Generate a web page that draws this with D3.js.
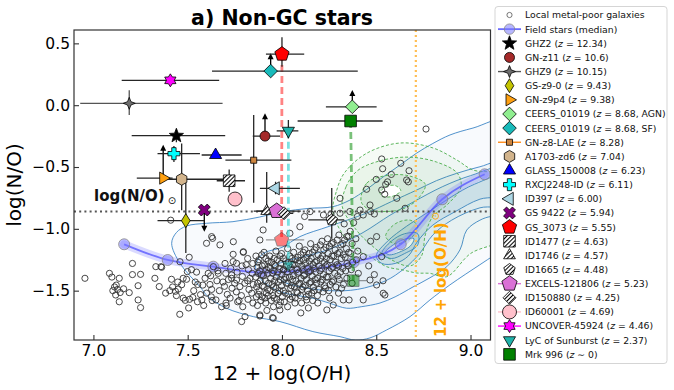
<!DOCTYPE html>
<html><head><meta charset="utf-8">
<script src="https://cdn.jsdelivr.net/npm/d3@7"></script>
<style>body{margin:0;background:#fff}svg{font-family:'DejaVu Sans',sans-serif}</style>
</head><body><svg id="c" width="674" height="390"></svg>
<script>
// ---------------- DATA ----------------
const xTicks = [7.0, 7.5, 8.0, 8.5, 9.0];
const yTicks = [0.5, 0.0, -0.5, -1.0, -1.5];
const solarNO = -0.86;
const solarOH = 8.71;

// Field stars (median)
const fieldOH = [7.163, 7.394, 7.636, 7.892, 8.14, 8.38, 8.63, 8.85, 9.075];
const fieldNO = [-1.125, -1.252, -1.306, -1.354, -1.33, -1.27, -1.125, -0.761, -0.559];

// Local metal-poor galaxies [12+log(O/H), log(N/O)]
const localGal = [
[6.955,-1.40],[7.085,-1.36],[7.098,-1.39],[7.137,-1.40],[7.112,-1.47],[7.128,-1.49],[7.103,-1.50],[7.142,-1.515],[7.121,-1.455],[7.137,-1.59],
[7.207,-1.28],[7.207,-1.37],[7.25,-1.368],[7.237,-1.46],[7.19,-1.516],[7.237,-1.575],[7.25,-1.637],[7.16,-1.485],[7.118,-1.535],
[7.331,-1.306],[7.358,-1.306],[7.326,-1.40],[7.349,-1.467],[7.362,-1.311],[7.414,-1.408],[7.42,-1.47],[7.405,-1.50],[7.435,-1.505],[7.45,-1.487],
[7.458,-1.691],[7.476,-1.56],[7.487,-1.578],[7.51,-1.57],[7.527,-1.555],[7.494,-1.408],[7.498,-1.346],[7.476,-1.40],[7.459,-1.266],[7.508,-1.23],
[7.54,-1.43],[7.553,-1.45],[7.58,-1.455],[7.547,-1.35],[7.609,-1.36],[7.60,-1.52],[7.627,-1.49],[7.632,-1.077],[7.60,-1.117],[7.627,-1.063],
[7.41,-0.93],[7.447,-1.43],[7.468,-1.452],[7.383,-1.52],[7.532,-1.50],[7.568,-1.532],[7.552,-1.59],[7.592,-1.40],[7.52,-1.33],[7.575,-1.575],
[7.505,-1.64],[7.585,-1.62],[7.44,-1.54],
[7.636,-1.306],[7.662,-1.36],[7.622,-1.38],[7.618,-1.45],[7.625,-1.55],[7.63,-1.58],[7.65,-1.575],[7.655,-1.42],[7.668,-1.50],[7.66,-1.34],
[7.68,-1.63],[7.705,-1.62],[7.698,-1.28],[7.702,-1.36],[7.695,-1.465],[7.71,-1.53],[7.703,-1.60],[7.728,-1.32],[7.733,-1.40],[7.735,-1.48],
[7.725,-1.56],[7.742,-1.104],[7.671,-1.13],[7.741,-1.206],[7.795,-1.19],[7.741,-1.265],[7.759,-1.279],[7.733,-1.373],[7.759,-1.414],[7.777,-1.467],
[7.803,-1.44],[7.83,-1.40],[7.762,-1.35],[7.758,-1.51],[7.765,-1.59],[7.788,-1.30],[7.79,-1.385],[7.785,-1.54],[7.792,-1.63],[7.818,-1.24],
[7.822,-1.33],[7.818,-1.42],[7.825,-1.49],[7.82,-1.57],[7.845,-1.28],[7.842,-1.36],[7.848,-1.45],[7.84,-1.52],[7.846,-1.60],[7.804,-1.71],
[7.786,-1.75],[7.795,-1.185],[7.883,-1.705],[7.95,-1.718],[7.883,-1.696],[7.954,-1.723],[7.989,-1.656],[7.687,-1.43],[7.716,-1.41],[7.749,-1.44],
[7.772,-1.58],[7.81,-1.29],
[7.862,-1.22],[7.868,-1.31],[7.861,-1.39],[7.866,-1.47],[7.864,-1.55],[7.87,-1.62],[7.883,-1.09],[7.9,-1.009],
[7.878,-1.25],[7.882,-1.34],[7.885,-1.42],[7.879,-1.50],[7.888,-1.58],
[7.905,-1.19],[7.915,-1.24],[7.908,-1.29],[7.918,-1.33],[7.902,-1.38],[7.912,-1.42],[7.905,-1.47],[7.917,-1.52],[7.909,-1.56],[7.914,-1.60],[7.92,-1.66],
[7.935,-1.22],[7.945,-1.27],[7.938,-1.32],[7.95,-1.36],[7.94,-1.40],[7.948,-1.45],[7.936,-1.50],[7.952,-1.54],[7.944,-1.58],[7.955,-1.63],
[7.968,-1.18],[7.975,-1.25],[7.965,-1.30],[7.978,-1.35],[7.97,-1.39],[7.982,-1.43],[7.968,-1.48],[7.98,-1.52],[7.972,-1.57],[7.985,-1.62],
[7.998,-1.20],[8.008,-1.24],[7.995,-1.28],[8.01,-1.33],[8.0,-1.37],[8.012,-1.41],[7.998,-1.46],[8.007,-1.50],[8.002,-1.55],[8.012,-1.59],[8.007,-1.333],
[8.03,-1.16],[8.042,-1.22],[8.035,-1.27],[8.045,-1.31],[8.028,-1.35],[8.04,-1.39],[8.032,-1.44],[8.046,-1.48],[8.036,-1.53],[8.044,-1.57],[8.03,-1.63],[8.042,-1.036],[8.069,-1.60],
[8.062,-1.19],[8.072,-1.25],[8.065,-1.29],[8.078,-1.33],[8.06,-1.38],[8.074,-1.42],[8.066,-1.47],[8.079,-1.51],[8.07,-1.56],[8.095,-0.983],
[8.092,-1.14],[8.1,-1.21],[8.095,-1.26],[8.105,-1.30],[8.09,-1.35],[8.102,-1.40],[8.094,-1.44],[8.106,-1.49],[8.098,-1.54],[8.104,-1.60],
[8.122,-1.17],[8.132,-1.23],[8.125,-1.28],[8.135,-1.32],[8.12,-1.37],[8.13,-1.41],[8.124,-1.46],[8.136,-1.50],[8.128,-1.55],[8.131,-1.575],
[8.152,-1.12],[8.162,-1.19],[8.155,-1.24],[8.165,-1.29],[8.15,-1.34],[8.16,-1.38],[8.154,-1.43],[8.166,-1.47],[8.158,-1.52],[8.163,-1.58],[8.149,-0.861],
[8.182,-1.15],[8.192,-1.21],[8.185,-1.26],[8.195,-1.30],[8.18,-1.35],[8.19,-1.40],[8.184,-1.44],[8.196,-1.49],[8.188,-1.54],
[8.212,-1.10],[8.222,-1.17],[8.215,-1.22],[8.225,-1.27],[8.21,-1.32],[8.22,-1.37],[8.214,-1.41],[8.226,-1.46],[8.218,-1.51],[8.22,-0.888],
[8.242,-1.08],[8.252,-1.14],[8.245,-1.20],[8.255,-1.25],[8.24,-1.29],[8.25,-1.34],[8.244,-1.39],[8.256,-1.45],[8.248,-1.50],[8.253,-1.56],
[8.272,-1.11],[8.282,-1.17],[8.275,-1.22],[8.285,-1.27],[8.27,-1.31],[8.28,-1.36],[8.274,-1.42],[8.286,-1.47],
[8.302,-1.05],[8.312,-1.13],[8.305,-1.19],[8.315,-1.24],[8.3,-1.30],[8.31,-1.35],[8.304,-1.41],[8.316,-1.48],[8.308,-0.874],[8.308,-0.753],[8.325,-1.575],
[8.332,-1.09],[8.342,-1.16],[8.335,-1.23],[8.345,-1.28],[8.338,-1.34],[8.344,-1.40],[8.344,-1.063],
[8.362,-1.02],[8.372,-1.12],[8.365,-1.20],[8.375,-1.27],[8.368,-1.33],[8.372,-1.44],[8.414,-0.848],[8.356,-1.575],
[8.392,-1.08],[8.402,-1.18],[8.395,-1.25],[8.405,-1.36],[8.431,-1.225],[8.467,-1.414],[8.502,-1.454],[8.537,-1.521],[8.431,-1.575],[8.46,-1.30],[8.49,-1.37],
[8.238,-1.656],[8.272,-1.616],[8.19,-1.60],[8.14,-1.64],[8.10,-1.68],[8.3,-1.52],
[7.872,-1.27],[7.874,-1.36],[7.871,-1.44],[7.876,-1.53],
[7.893,-1.21],[7.895,-1.30],[7.892,-1.37],[7.896,-1.46],[7.894,-1.55],
[7.926,-1.26],[7.928,-1.31],[7.925,-1.36],[7.929,-1.44],[7.924,-1.49],[7.927,-1.54],
[7.958,-1.24],[7.96,-1.29],[7.957,-1.34],[7.961,-1.42],[7.956,-1.47],[7.959,-1.56],
[7.99,-1.22],[7.988,-1.32],[7.991,-1.41],[7.987,-1.50],[7.992,-1.59],
[8.02,-1.26],[8.022,-1.30],[8.019,-1.39],[8.023,-1.44],[8.018,-1.52],
[8.053,-1.24],[8.055,-1.29],[8.052,-1.33],[8.056,-1.41],[8.051,-1.46],[8.054,-1.55],
[8.085,-1.23],[8.087,-1.28],[8.084,-1.36],[8.088,-1.45],[8.083,-1.52],
[8.113,-1.19],[8.115,-1.25],[8.112,-1.33],[8.116,-1.38],[8.111,-1.47],
[8.143,-1.20],[8.145,-1.26],[8.142,-1.35],[8.146,-1.44],[8.141,-1.53],
[8.173,-1.17],[8.175,-1.27],[8.172,-1.32],[8.176,-1.41],[8.171,-1.50],
[8.203,-1.13],[8.205,-1.24],[8.202,-1.34],[8.206,-1.43],
[8.233,-1.15],[8.235,-1.24],[8.232,-1.30],[8.236,-1.39],[8.231,-1.48],
[8.263,-1.12],[8.265,-1.22],[8.262,-1.32],[8.266,-1.43],
[8.293,-1.09],[8.295,-1.20],[8.292,-1.29],[8.296,-1.38],
[8.323,-1.12],[8.325,-1.21],[8.322,-1.32],[8.326,-1.45],
[8.353,-1.06],[8.355,-1.19],[8.352,-1.30],
[8.764,-0.193],[8.529,-0.435],[8.63,-0.47],[8.674,-0.53],[8.534,-0.514],[8.449,-0.68],[8.529,-0.686],[8.55,-0.64],[8.56,-0.62],[8.545,-0.72],
[8.661,-0.605],[8.67,-0.62],[8.609,-0.753],[8.653,-0.834],[8.467,-0.807],[8.431,-0.888],[8.47,-0.86],[8.49,-0.88],[8.40,-0.90],[8.502,-1.063],
[8.47,-1.10],[8.529,-1.225],[8.536,-1.42],[8.546,-1.535],[8.50,-0.60],[8.58,-0.56],[8.36,-0.86],[8.38,-0.95],[8.33,-0.96],[8.12,-0.90],[8.26,-0.88]
];

// density contours (blue: reference galaxy sample, green: stellar sample)
const blueC1 = [[7.415,-1.117],[7.44,-1.03],[7.494,-0.977],[7.6,-0.955],[7.74,-0.942],[7.88,-0.905],[8.005,-0.861],[8.14,-0.835],[8.27,-0.821],[8.361,-0.767],[8.45,-0.68],[8.536,-0.581],[8.63,-0.48],[8.715,-0.387],[8.8,-0.31],[8.891,-0.241],[9.013,-0.185],[9.2,-0.12],[9.25,-0.6],[9.25,-1.1],[9.13,-1.21],[9.05,-1.29],[8.891,-1.453],[8.785,-1.575],[8.679,-1.71],[8.555,-1.818],[8.467,-1.882],[8.39,-1.9],[8.308,-1.872],[8.164,-1.831],[7.989,-1.75],[7.848,-1.71],[7.707,-1.643],[7.609,-1.55],[7.565,-1.468],[7.459,-1.279]];
const blueC2 = [[7.86,-1.30],[7.9,-1.2],[8.0,-1.15],[8.095,-1.063],[8.25,-0.98],[8.449,-0.872],[8.58,-0.78],[8.715,-0.686],[8.82,-0.61],[8.927,-0.551],[9.05,-0.498],[9.2,-0.45],[9.2,-0.9],[9.109,-0.9],[9.05,-0.93],[8.98,-1.01],[8.944,-1.17],[8.874,-1.306],[8.78,-1.4],[8.695,-1.47],[8.6,-1.55],[8.52,-1.6],[8.42,-1.63],[8.343,-1.642],[8.25,-1.6],[8.164,-1.561],[7.99,-1.508],[7.892,-1.414]];
const blueC3 = [[7.95,-1.32],[8.0,-1.27],[8.1,-1.23],[8.26,-1.16],[8.43,-1.03],[8.573,-0.89],[8.7,-0.78],[8.85,-0.66],[9.0,-0.57],[9.2,-0.5],[9.2,-0.8],[9.05,-0.83],[8.9,-0.93],[8.8,-1.05],[8.73,-1.2],[8.65,-1.32],[8.55,-1.42],[8.4,-1.49],[8.25,-1.5],[8.1,-1.47],[8.0,-1.42]];
const blueC4 = [[8.5,-1.22],[8.56,-1.1],[8.66,-0.98],[8.78,-0.86],[8.9,-0.74],[9.02,-0.64],[9.2,-0.56],[9.2,-0.72],[9.05,-0.76],[8.92,-0.86],[8.8,-0.97],[8.72,-1.1],[8.67,-1.22],[8.6,-1.28],[8.53,-1.28]];
const blueC5 = [[8.53,-1.2],[8.58,-1.1],[8.65,-1.04],[8.72,-1.04],[8.72,-1.13],[8.65,-1.2],[8.58,-1.24]];
const blueHole = [[8.55,-1.19],[8.6,-1.12],[8.66,-1.08],[8.70,-1.08],[8.68,-1.14],[8.62,-1.19],[8.57,-1.21]];
const greenC1 = [[8.27,-0.85],[8.29,-0.69],[8.33,-0.55],[8.449,-0.389],[8.626,-0.306],[8.801,-0.346],[8.927,-0.443],[9.013,-0.524],[9.2,-0.58],[9.2,-1.05],[9.0,-1.2],[8.874,-1.387],[8.785,-1.36],[8.715,-1.357],[8.642,-1.333],[8.555,-1.306],[8.467,-1.225],[8.396,-1.171],[8.308,-1.009]];
const greenC2 = [[8.32,-0.82],[8.34,-0.66],[8.4,-0.53],[8.52,-0.45],[8.67,-0.42],[8.82,-0.46],[8.93,-0.55],[8.95,-0.66],[8.88,-0.8],[8.8,-0.9],[8.76,-1.05],[8.74,-1.22],[8.68,-1.3],[8.58,-1.25],[8.48,-1.14],[8.4,-1.02]];
const greenC3 = [[8.42,-0.78],[8.45,-0.63],[8.55,-0.57],[8.67,-0.57],[8.76,-0.64],[8.72,-0.76],[8.64,-0.84],[8.55,-0.86],[8.47,-0.85]];
const greenC3b = [[8.55,-1.06],[8.6,-0.96],[8.68,-0.93],[8.72,-0.98],[8.68,-1.08],[8.6,-1.12]];
const greenHole = [[8.52,-0.71],[8.55,-0.66],[8.6,-0.65],[8.63,-0.69],[8.59,-0.735],[8.54,-0.74]];

// High-z / special objects
const objNames = ["GHZ2","GN-z11","GHZ9","GS-z9-0","GN-z9p4","CEERS_01019","CEERS_01019","GN-z8-LAE","A1703-zd6","GLASS_150008","RXCJ2248-ID","ID397","GS 9422","GS_3073","ID1477","ID1746","ID1665","EXCELS-121806","ID150880","ID60001","UNCOVER-45924","LyC of Sunburst","Mrk 996"];
const objZ = ["12.34","10.6","10.15","9.43","9.38","8.68, AGN","8.68, SF","8.28","7.04","6.23","6.11","6.00","5.94","5.55","4.63","4.57","4.48","5.23","4.25","4.69","4.46","2.37","0"];
const objOH   = [7.44, 7.91, 7.19, 7.49, 7.37, 8.373, 7.94, 7.85, 7.468, 7.648, 7.427, 7.966, 7.588, 8.0, 7.72, 7.919, 8.264, 7.972, 8.011, 7.751, 7.408, 8.034, 8.364];
const objNO   = [-0.247, -0.25, 0.015, -0.934, -0.59, -0.013, 0.276, -0.445, -0.599, -0.403, -0.392, -0.672, -0.848, 0.413, -0.611, -0.856, -0.928, -0.856, -0.874, -0.759, 0.201, -0.207, -0.128];
const objOHlo = [7.203, 7.845, 6.93, 7.34, 7.23, 8.233, 7.629, 7.70, 7.37, 7.574, 7.34, 7.883, null, 7.915, 7.654, 7.87, 8.14, 7.85, 7.96, null, 7.15, 7.972, 8.083];
const objOHhi = [7.699, 7.99, 7.685, 7.586, 7.42, 8.502, 8.402, 8.05, 7.724, 7.786, 7.565, 8.095, null, 8.118, 7.804, 7.97, 8.33, 8.10, 8.06, null, 7.667, 8.087, 8.534];
const objNOlo = [-0.30, null, -0.08, -1.195, null, null, null, -0.79, -0.85, null, -0.46, -0.72, null, 0.31, -0.70, -0.95, -1.08, -0.91, null, null, null, -0.27, null];
const objNOhi = [-0.20, null, 0.12, -0.63, null, null, null, -0.08, -0.31, null, -0.33, -0.62, null, 0.55, -0.52, -0.54, -0.67, -0.80, null, null, null, -0.12, null];
// limit arrows: end value of log(N/O) (lower limits point up, upper limits point down)
const objLimit = [null, -0.066, null, null, -0.32, 0.123, 0.419, null, null, null, null, null, -1.023, null, null, null, null, null, null, null, null, null, null];

// alternative (faded) values connected by dashed lines
const altIdx = [13, 21, 22];
const altOH = [7.998, 8.034, 8.378];
const altNO = [-1.09, -1.292, -1.419];
const altOHlo = [7.915, null, 8.30];
const altOHhi = [8.118, null, 8.45];

// ---------------- STYLES ----------------
const objStyle = [
 {s:'star5', r:7.5, fill:'#000000'},
 {s:'circle', r:5, fill:'#a52a2a'},
 {s:'star4', r:6, fill:'#6e6e6e', line:'#555'},
 {s:'thindiamond', r:7, fill:'#c4c400'},
 {s:'triRight', r:7, fill:'#ffa010'},
 {s:'diamond', r:6.8, fill:'#90ee90'},
 {s:'diamond', r:6.8, fill:'#18baba'},
 {s:'square', r:4.3, fill:'#cd853f', line:'#ff8c1a'},
 {s:'hexagon', r:6, fill:'#d2b48c'},
 {s:'triUp', r:7, fill:'#0000ff'},
 {s:'plus', r:6, fill:'#00ffff'},
 {s:'triLeft', r:7.5, fill:'#add8e6'},
 {s:'xcross', r:6.3, fill:'#800080'},
 {s:'pentagon', r:7.5, fill:'#ff0000'},
 {s:'square', r:8.2, fill:'url(#hatch)'},
 {s:'triUp', r:6.8, fill:'url(#hatch)'},
 {s:'pentagon', r:6, fill:'url(#hatch)'},
 {s:'pentagon', r:8, fill:'#da70d6', line:'#da70d6'},
 {s:'diamond', r:6.5, fill:'url(#hatch)'},
 {s:'circle', r:7, fill:'#ffc0cb', line:'#ffc0cb'},
 {s:'star6', r:6.5, fill:'#ff00ff', line:'#ff00ff'},
 {s:'triDown', r:7, fill:'#20b2aa'},
 {s:'square', r:8.2, fill:'#008000'}
];
const altColors = ['rgba(255,90,90,0.75)','rgba(80,215,215,0.75)','rgba(50,160,50,0.65)'];

// ---------------- HELPERS ----------------
function P(pts){return 'M'+pts.map(p=>p[0].toFixed(2)+','+p[1].toFixed(2)).join('L')+'Z';}
function regPoly(n,r,start){const a=[];for(let i=0;i<n;i++){const t=(start-90+i*360/n)*Math.PI/180;a.push([r*Math.cos(t),r*Math.sin(t)]);}return a;}
function starPts(n,ro,ri){const a=[];for(let i=0;i<2*n;i++){const rr=i%2?ri:ro;const t=(-90+i*180/n)*Math.PI/180;a.push([rr*Math.cos(t),rr*Math.sin(t)]);}return a;}
function plusPts(r,w){return [[-w,-r],[w,-r],[w,-w],[r,-w],[r,w],[w,w],[w,r],[-w,r],[-w,w],[-r,w],[-r,-w],[-w,-w]];}
function rot(pts,deg){const t=deg*Math.PI/180,c=Math.cos(t),s=Math.sin(t);return pts.map(p=>[p[0]*c-p[1]*s,p[0]*s+p[1]*c]);}
function shape(s,r){
 switch(s){
  case 'circle': return `M${r},0A${r},${r} 0 1,1 ${-r},0A${r},${r} 0 1,1 ${r},0Z`;
  case 'triUp': return P(regPoly(3,r,0));
  case 'triDown': return P(regPoly(3,r,180));
  case 'triLeft': return P(regPoly(3,r,-90));
  case 'triRight': return P(regPoly(3,r,90));
  case 'square': return P(regPoly(4,r,45));
  case 'diamond': return P(regPoly(4,r,0));
  case 'thindiamond': return P([[0,-r],[0.62*r,0],[0,r],[-0.62*r,0]]);
  case 'pentagon': return P(regPoly(5,r,0));
  case 'hexagon': return P(regPoly(6,r,0));
  case 'star5': return P(starPts(5,r,r*0.42));
  case 'star6': return P(starPts(6,r,r*0.6));
  case 'star4': return P(starPts(4,r,r*0.4));
  case 'plus': return P(plusPts(r,r*0.36));
  case 'xcross': return P(rot(plusPts(r,r*0.34),45));
 }
}

// ---------------- CHART ----------------
const svg = d3.select('#c');
const L=74, R=490.5, T=30, B=340;
const x = d3.scaleLinear().domain([6.897, 9.106]).range([L, R]);
const y = d3.scaleLinear().domain([-1.899, 0.608]).range([B, T]);

const defs = svg.append('defs');
defs.append('clipPath').attr('id','clip').append('rect').attr('x',L).attr('y',T).attr('width',R-L).attr('height',B-T);
const pat = defs.append('pattern').attr('id','hatch').attr('width',3).attr('height',3)
  .attr('patternUnits','userSpaceOnUse').attr('patternTransform','rotate(45)');
pat.append('rect').attr('width',3).attr('height',3).attr('fill','#fff');
pat.append('line').attr('x1',0.5).attr('y1',0).attr('x2',0.5).attr('y2',3).attr('stroke','#000').attr('stroke-width',1.1);

const g = svg.append('g').attr('clip-path','url(#clip)');
const cl = d3.line().x(d=>x(d[0])).y(d=>y(d[1])).curve(d3.curveCatmullRomClosed.alpha(0.5));

// blue contours
[[blueC1,0.035],[blueC2,0.04],[blueC3,0.055],[blueC4,0.09],[blueC5,0.08]].forEach(([c,a])=>{
  g.append('path').attr('d',cl(c)).attr('fill',`rgba(45,125,190,${a})`).attr('stroke','#3d86c6').attr('stroke-width',0.9);
});
g.append('path').attr('d',cl(blueHole)).attr('fill','#fbfdff').attr('stroke','#3d86c6').attr('stroke-width',0.9);
// green contours
[[greenC1,0.045],[greenC2,0.06],[greenC3,0.09],[greenC3b,0.09]].forEach(([c,a])=>{
  g.append('path').attr('d',cl(c)).attr('fill',`rgba(50,160,50,${a})`).attr('stroke','#4cae4c').attr('stroke-width',0.9).attr('stroke-dasharray','3,2');
});
g.append('path').attr('d',cl(greenHole)).attr('fill','#ffffff').attr('stroke','#4cae4c').attr('stroke-width',0.9).attr('stroke-dasharray','3,2');

// field stars median
const fieldPts = fieldOH.map((v,i)=>[v,fieldNO[i]]);
const ml = d3.line().x(d=>x(d[0])).y(d=>y(d[1])).curve(d3.curveMonotoneX);
g.append('path').attr('d',ml(fieldPts)).attr('fill','none').attr('stroke','#7b7bff').attr('stroke-width',8).attr('stroke-opacity',0.28).attr('stroke-linecap','round');
g.append('path').attr('d',ml(fieldPts)).attr('fill','none').attr('stroke','#5050ff').attr('stroke-width',1.8).attr('stroke-opacity',0.75);
g.selectAll('circle.fs').data(fieldPts).join('circle').attr('class','fs')
  .attr('cx',d=>x(d[0])).attr('cy',d=>y(d[1])).attr('r',5.5)
  .attr('fill','#7a7aff').attr('fill-opacity',0.5).attr('stroke','#888').attr('stroke-width',0.8);

// local galaxies
g.selectAll('circle.lg').data(localGal).join('circle').attr('class','lg')
  .attr('cx',d=>x(d[0])).attr('cy',d=>y(d[1])).attr('r',3.1)
  .attr('fill','none').attr('stroke','#333').attr('stroke-width',0.9);

// reference lines
g.append('line').attr('x1',L).attr('x2',R).attr('y1',y(solarNO)).attr('y2',y(solarNO))
  .attr('stroke','#555').attr('stroke-width',2.2).attr('stroke-dasharray','2,3.2');
g.append('line').attr('x1',x(solarOH)).attr('x2',x(solarOH)).attr('y1',T).attr('y2',B)
  .attr('stroke','#ffbe55').attr('stroke-width',2.2).attr('stroke-dasharray','2,3');

// dashed connectors + faded alternatives
altIdx.forEach((k,j)=>{
  g.append('line').attr('x1',x(objOH[k])).attr('x2',x(altOH[j])).attr('y1',y(objNO[k])).attr('y2',y(altNO[j]))
    .attr('stroke',altColors[j]).attr('stroke-width',2.8).attr('stroke-dasharray','7,4');
});
const ga = g.append('g').attr('opacity',0.5);
altIdx.forEach((k,j)=>{
  if(altOHlo[j]!=null) ga.append('line').attr('x1',x(altOHlo[j])).attr('x2',x(altOHhi[j])).attr('y1',y(altNO[j])).attr('y2',y(altNO[j])).attr('stroke','#333').attr('stroke-width',1.2);
  const st=objStyle[k];
  ga.append('path').attr('d',shape(st.s,st.r)).attr('transform',`translate(${x(altOH[j])},${y(altNO[j])})`)
    .attr('fill',st.fill).attr('stroke','#000').attr('stroke-width',0.8);
});

// error bars and limits
const ge = g.append('g');
objNames.forEach((n,i)=>{
  const cx=x(objOH[i]), cy=y(objNO[i]);
  const col = i===2 ? '#555' : '#262626';
  if(objOHlo[i]!=null) ge.append('line').attr('x1',x(objOHlo[i])).attr('x2',x(objOHhi[i])).attr('y1',cy).attr('y2',cy).attr('stroke',col).attr('stroke-width',1.3);
  if(objNOlo[i]!=null) ge.append('line').attr('x1',cx).attr('x2',cx).attr('y1',y(objNOlo[i])).attr('y2',y(objNOhi[i])).attr('stroke',col).attr('stroke-width',1.3);
  if(objLimit[i]!=null){
    const ye=y(objLimit[i]); const up = ye<cy; const h = up?6:-6;
    ge.append('line').attr('x1',cx).attr('x2',cx).attr('y1',cy).attr('y2',ye+h*0.6).attr('stroke','#000').attr('stroke-width',1.3);
    ge.append('path').attr('d',`M${cx-3},${ye+h}L${cx},${ye}L${cx+3},${ye+h}Z`).attr('fill','#000');
  }
});
// markers
objNames.forEach((n,i)=>{
  const st=objStyle[i];
  g.append('path').attr('d',shape(st.s,st.r)).attr('transform',`translate(${x(objOH[i])},${y(objNO[i])})`)
    .attr('fill',st.fill).attr('stroke','#000').attr('stroke-width',0.8);
});

// frame + axes
svg.append('rect').attr('x',L).attr('y',T).attr('width',R-L).attr('height',B-T).attr('fill','none').attr('stroke','#333').attr('stroke-width',1.2);
const xa = svg.append('g').attr('transform',`translate(0,${B})`)
  .call(d3.axisBottom(x).tickValues(xTicks).tickFormat(d3.format('.1f')).tickSizeInner(-5).tickSizeOuter(0).tickPadding(5));
const ya = svg.append('g').attr('transform',`translate(${L},0)`)
  .call(d3.axisLeft(y).tickValues(yTicks).tickFormat(d3.format('.1f')).tickSizeInner(-5).tickSizeOuter(0).tickPadding(4));
[xa,ya].forEach(a=>{a.select('.domain').remove();a.selectAll('line').attr('stroke','#333').attr('stroke-width',1.1);
  a.selectAll('text').attr('font-size','15.5px').attr('fill','#000').attr('font-family','DejaVu Sans');});

// labels
svg.append('text').attr('x',282).attr('y',25).attr('text-anchor','middle').attr('font-size','20.5px').attr('font-weight','bold').text('a) Non-GC stars');
svg.append('text').attr('x',282).attr('y',380).attr('text-anchor','middle').attr('font-size','20px').text('12 + log(O/H)');
svg.append('text').attr('transform','translate(21,185) rotate(-90)').attr('text-anchor','middle').attr('font-size','20px').text('log(N/O)');
const sl = svg.append('text').attr('x',94).attr('y',201).attr('font-size','15px').attr('font-weight','bold').attr('fill','#111');
sl.append('tspan').text('log(N/O)');
sl.append('tspan').attr('dx',3).attr('dy',3).attr('font-size','10px').attr('font-weight','normal').text('⊙');
const ol = svg.append('text').attr('transform',`translate(446,337) rotate(-90)`).attr('font-size','15px').attr('font-weight','bold').attr('fill','#ffa500');
ol.append('tspan').text('12 + log(O/H)');
ol.append('tspan').attr('dx',2).attr('dy',-7).attr('font-size','10px').attr('font-weight','normal').text('⊙');

// legend
const lg = svg.append('g');
lg.append('rect').attr('x',495).attr('y',6.5).attr('width',172).attr('height',357).attr('rx',3)
  .attr('fill','#fff').attr('stroke','#d5d5d5').attr('stroke-width',1);
const ly0=15, ldy=14.14, lmx=509.5, ltx=525;
function ltext(yy, name, z, approx){
  const t = lg.append('text').attr('x',ltx).attr('y',yy+3.4).attr('font-size','9.3px').attr('fill','#111');
  t.append('tspan').text(name+(z!=null?' (':''));
  if(z!=null){
    t.append('tspan').attr('font-style','italic').text('z');
    t.append('tspan').text((approx?' ∼ ':' = ')+z+')');
  }
}
lg.append('circle').attr('cx',lmx).attr('cy',ly0).attr('r',2.6).attr('fill','none').attr('stroke','#555').attr('stroke-width',0.8);
ltext(ly0,'Local metal-poor galaxies',null);
lg.append('line').attr('x1',498).attr('x2',521).attr('y1',ly0+ldy).attr('y2',ly0+ldy).attr('stroke','#6a6aff').attr('stroke-width',1.8);
lg.append('circle').attr('cx',lmx).attr('cy',ly0+ldy).attr('r',5.2).attr('fill','#7a7aff').attr('fill-opacity',0.55).attr('stroke','#888').attr('stroke-width',0.8);
ltext(ly0+ldy,'Field stars (median)',null);
objNames.forEach((n,i)=>{
  const yy = ly0+(i+2)*ldy, st=objStyle[i];
  if(st.line){
    lg.append('line').attr('x1',498).attr('x2',521).attr('y1',yy).attr('y2',yy).attr('stroke',st.line).attr('stroke-width',1.4);
  }
  lg.append('path').attr('d',shape(st.s,st.r)).attr('transform',`translate(${lmx},${yy})`)
    .attr('fill',st.fill).attr('stroke','#000').attr('stroke-width',0.8);
  ltext(yy, n, objZ[i], n==='Mrk 996');
});
</script></body></html>
